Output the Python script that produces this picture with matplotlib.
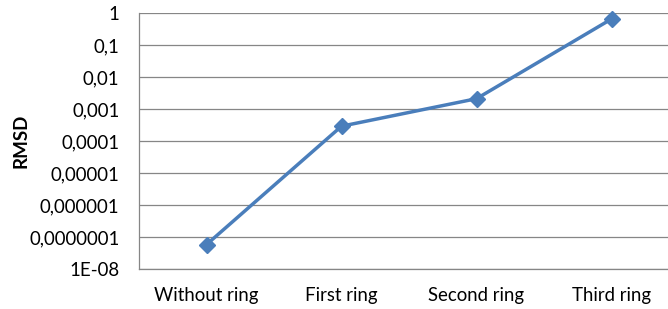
import matplotlib
matplotlib.use("Agg")
import matplotlib.pyplot as plt
import numpy as np

categories = ["Without ring", "First ring", "Second ring", "Third ring"]
rmsd = [5.8e-8, 2.9e-4, 2.1e-3, 0.65]
ytick_vals = [1e-8, 1e-7, 1e-6, 1e-5, 1e-4, 1e-3, 1e-2, 1e-1, 1]
ytick_labels = ["1E-08", "0,0000001", "0,000001", "0,00001", "0,0001", "0,001", "0,01", "0,1", "1"]

plt.rcParams['font.family'] = ['Lato', 'DejaVu Sans']

W, H = 668, 309
fig = plt.figure(figsize=(W/100, H/100), dpi=100)
left, right, top, bottom = 139, 679, 13, 269
ax = fig.add_axes([left/W, 1 - bottom/H, (right-left)/W, (bottom-top)/H])

x = np.arange(len(categories))
ax.plot(x, rmsd, color="#4A7EBB", lw=2.5, marker="D", ms=8, mec="#4A7EBB", mfc="#4A7EBB", zorder=3, clip_on=False)
ax.set_yscale("log")
ax.set_ylim(1e-8, 1)
ax.set_xlim(-0.5, 3.5)
ax.set_yticks(ytick_vals)
ax.set_yticklabels(ytick_labels)
ax.minorticks_off()
ax.set_xticks(x)
ax.set_xticklabels(categories)
ax.tick_params(axis="both", length=0, labelsize=13.4, colors="black")
ax.tick_params(axis="y", pad=14)
ax.tick_params(axis="x", pad=13)
ax.grid(axis="y", color="#868686", lw=0.9)
ax.set_axisbelow(True)
for s in ["top", "right"]:
    ax.spines[s].set_visible(False)
for s in ["left", "bottom"]:
    ax.spines[s].set_color("#868686")
    ax.spines[s].set_linewidth(0.9)
ax.set_ylabel("RMSD", fontsize=13.5, fontweight="bold")
ax.yaxis.set_label_coords((30 - left) / (right - left), 0.5)

fig.savefig("out.png", dpi=100)
